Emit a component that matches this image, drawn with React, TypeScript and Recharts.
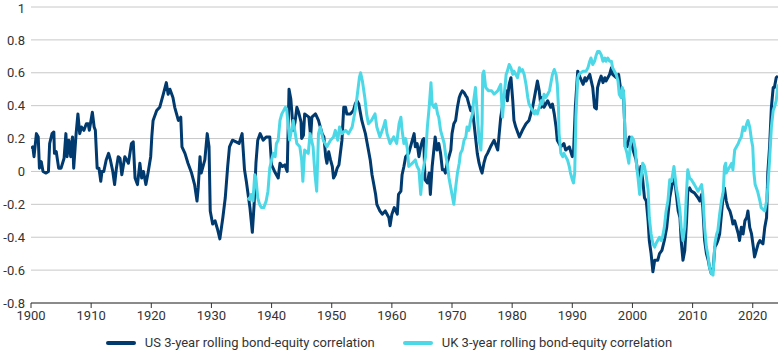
import { LineChart, Line, XAxis, YAxis, CartesianGrid, Legend } from 'recharts';

// US 3-year rolling bond-equity correlation
const usYears = [
  1900.0, 1900.3, 1900.5, 1900.9, 1901.2, 1901.4, 1901.7, 1902.0, 1902.5, 1902.9,
  1903.1, 1903.5, 1903.8, 1903.9, 1904.2, 1904.6, 1905.0, 1905.5, 1905.8, 1906.0,
  1906.3, 1906.6, 1906.9, 1907.1, 1907.5, 1907.8, 1908.1, 1908.4, 1908.8, 1909.2,
  1909.5, 1909.7, 1910.2, 1910.5, 1910.7, 1911.0, 1911.3, 1911.6, 1911.8, 1912.1,
  1912.5, 1912.9, 1913.2, 1913.6, 1913.9, 1914.2, 1914.5, 1914.8, 1915.1, 1915.6,
  1916.2, 1916.7, 1917.0, 1917.3, 1917.7, 1918.1, 1918.4, 1918.7, 1919.1, 1919.5,
  1919.9, 1920.1, 1920.3, 1920.9, 1921.4, 1922.0, 1922.5, 1922.8, 1923.1, 1923.6,
  1923.9, 1924.5, 1924.9, 1925.1, 1925.6, 1926.1, 1926.7, 1927.2, 1927.6, 1927.8,
  1928.1, 1928.3, 1928.9, 1929.3, 1929.6, 1929.8, 1930.2, 1930.6, 1931.0, 1931.4,
  1931.9, 1932.3, 1932.7, 1933.0, 1933.5, 1934.1, 1934.6, 1935.1, 1935.5, 1935.8,
  1936.1, 1936.4, 1936.8, 1937.1, 1937.4, 1937.7, 1938.1, 1938.6, 1939.1, 1939.7,
  1940.0, 1940.5, 1941.1, 1941.4, 1941.8, 1942.2, 1942.6, 1942.9, 1943.2, 1943.6,
  1943.9, 1944.2, 1944.5, 1944.9, 1945.0, 1945.3, 1945.5, 1946.2, 1946.5, 1946.7,
  1947.3, 1947.8, 1948.4, 1948.7, 1949.0, 1949.2, 1949.5, 1949.8, 1950.1, 1950.3,
  1950.6, 1950.9, 1951.2, 1951.4, 1951.7, 1952.0, 1952.3, 1952.5, 1953.1, 1953.6,
  1953.9, 1954.2, 1954.5, 1954.8, 1955.0, 1955.3, 1955.6, 1955.9, 1956.1, 1956.4,
  1956.7, 1957.0, 1957.3, 1957.5, 1958.0, 1958.4, 1958.9, 1959.5, 1959.7, 1960.0,
  1960.4, 1960.9, 1961.1, 1961.5, 1961.7, 1962.0, 1962.3, 1962.8, 1963.4, 1963.7,
  1963.9, 1964.2, 1964.5, 1964.8, 1965.1, 1965.3, 1965.5, 1965.9, 1966.2, 1966.4,
  1966.7, 1967.2, 1967.5, 1967.8, 1968.1, 1968.4, 1968.7, 1968.9, 1969.2, 1969.8,
  1970.0, 1970.3, 1970.6, 1970.9, 1971.2, 1971.4, 1971.7, 1972.0, 1972.3, 1972.5,
  1972.8, 1973.1, 1973.4, 1973.6, 1973.9, 1974.2, 1974.5, 1974.8, 1975.0, 1975.3,
  1975.6, 1975.9, 1976.4, 1977.0, 1977.6, 1977.8, 1978.1, 1978.7, 1979.0, 1979.2,
  1979.5, 1979.8, 1980.1, 1980.3, 1980.6, 1981.2, 1981.7, 1982.3, 1982.8, 1983.4,
  1983.9, 1984.2, 1984.5, 1984.8, 1985.0, 1985.3, 1985.9, 1986.4, 1986.7, 1987.0,
  1987.3, 1987.5, 1987.8, 1988.1, 1988.6, 1988.9, 1989.5, 1990.0, 1990.2, 1990.5,
  1990.9, 1991.3, 1991.8, 1992.1, 1992.3, 1992.9, 1993.4, 1993.7, 1994.0, 1994.2,
  1994.5, 1994.8, 1995.1, 1995.4, 1995.6, 1996.2, 1996.5, 1996.7, 1997.3, 1997.7,
  1998.0, 1998.3, 1998.5, 1998.7, 1998.8, 1999.1, 1999.5, 1999.8, 2000.1, 2000.6,
  2000.9, 2001.2, 2001.4, 2001.7, 2002.0, 2002.3, 2002.6, 2002.8, 2003.1, 2003.4,
  2003.7, 2004.2, 2004.5, 2004.9, 2005.3, 2005.7, 2006.2, 2006.5, 2006.9, 2007.3,
  2007.6, 2007.9, 2008.1, 2008.4, 2008.7, 2009.0, 2009.2, 2009.5, 2009.8, 2010.3,
  2010.9, 2011.2, 2011.5, 2011.7, 2012.0, 2012.3, 2012.6, 2012.8, 2013.1, 2013.4,
  2013.7, 2014.0, 2014.2, 2014.5, 2014.8, 2015.1, 2015.3, 2015.6, 2015.9, 2016.2,
  2016.5, 2016.7, 2017.0, 2017.3, 2017.6, 2017.8, 2018.1, 2018.4, 2018.7, 2019.0,
  2019.2, 2019.5, 2019.8, 2020.1, 2020.3, 2020.6, 2020.9, 2021.2, 2021.4, 2021.7,
  2022.0, 2022.3, 2022.5, 2022.8, 2023.1, 2023.4, 2023.6, 2023.9, 2024.2,
];
const usValues = [
  0.14, 0.15, 0.09, 0.23, 0.21, 0.02, 0.06, 0.0, -0.01, 0.0,
  0.17, 0.23, 0.24, 0.11, 0.12, 0.02, 0.02, 0.08, 0.23, 0.09,
  0.19, 0.09, 0.21, 0.02, 0.23, 0.35, 0.23, 0.27, 0.25, 0.29,
  0.29, 0.25, 0.36, 0.27, 0.25, 0.02, 0.02, -0.06, 0.0, 0.0,
  0.07, 0.11, 0.07, 0.0, -0.08, 0.02, 0.09, 0.08, -0.02, 0.09,
  0.05, 0.17, 0.18, -0.04, -0.08, 0.05, -0.04, 0.0, -0.08, 0.0,
  0.09, 0.22, 0.31, 0.37, 0.39, 0.47, 0.54, 0.47, 0.5, 0.45,
  0.39, 0.31, 0.33, 0.15, 0.11, 0.05, -0.01, -0.08, -0.18, -0.1,
  0.09, -0.01, 0.07, 0.23, 0.15, -0.24, -0.32, -0.3, -0.35, -0.41,
  -0.28, -0.16, 0.03, 0.15, 0.19, 0.18, 0.17, 0.23, 0.01, -0.06,
  -0.14, -0.22, -0.37, -0.2, 0.05, 0.19, 0.23, 0.19, 0.21, 0.21,
  0.04, 0.0, -0.04, 0.05, 0.03, 0.04, 0.0, 0.5, 0.44, 0.25,
  0.3, 0.39, 0.36, 0.3, 0.2, 0.22, 0.35, 0.33, 0.21, 0.33,
  0.35, 0.31, 0.23, 0.21, 0.09, 0.05, 0.12, 0.07, 0.03, -0.04,
  -0.02, 0.02, 0.04, 0.1, 0.19, 0.39, 0.39, 0.35, 0.35, 0.37,
  0.41, 0.43, 0.41, 0.35, 0.31, 0.27, 0.23, 0.17, 0.13, 0.07,
  -0.02, -0.08, -0.14, -0.2, -0.24, -0.26, -0.24, -0.28, -0.33, -0.26,
  -0.22, -0.26, -0.14, -0.12, -0.02, 0.03, 0.09, 0.11, 0.19, 0.23,
  0.15, 0.17, 0.09, 0.15, 0.19, 0.2, -0.05, -0.07, -0.01, -0.14,
  0.03, 0.21, 0.13, 0.17, 0.11, 0.01, 0.01, -0.01, 0.05, 0.13,
  0.23, 0.29, 0.31, 0.39, 0.45, 0.47, 0.49, 0.48, 0.46, 0.45,
  0.41, 0.37, 0.39, 0.31, 0.21, 0.11, 0.05, 0.01, -0.01, 0.05,
  0.09, 0.11, 0.15, 0.19, 0.13, 0.21, 0.33, 0.47, 0.49, 0.43,
  0.53, 0.57, 0.43, 0.31, 0.27, 0.21, 0.25, 0.29, 0.31, 0.39,
  0.49, 0.55, 0.49, 0.39, 0.45, 0.39, 0.43, 0.39, 0.41, 0.35,
  0.27, 0.19, 0.17, 0.15, 0.17, 0.13, 0.15, 0.09, 0.11, 0.39,
  0.61, 0.57, 0.53, 0.57, 0.55, 0.59, 0.51, 0.39, 0.38, 0.51,
  0.55, 0.58, 0.54, 0.57, 0.55, 0.59, 0.63, 0.59, 0.57, 0.59,
  0.51, 0.45, 0.49, 0.29, 0.15, 0.15, 0.21, 0.19, 0.13, 0.07,
  -0.01, -0.03, 0.03, -0.05, -0.16, -0.18, -0.3, -0.42, -0.5, -0.61,
  -0.54, -0.54, -0.5, -0.48, -0.42, -0.34, -0.16, -0.1, -0.01, -0.14,
  -0.24, -0.28, -0.42, -0.54, -0.48, -0.3, -0.12, -0.1, -0.12, -0.13,
  -0.16, -0.18, -0.14, -0.22, -0.42, -0.5, -0.54, -0.58, -0.62, -0.6,
  -0.46, -0.44, -0.42, -0.38, -0.26, -0.14, -0.1, -0.18, -0.22, -0.24,
  -0.28, -0.32, -0.3, -0.34, -0.38, -0.42, -0.34, -0.38, -0.3, -0.28,
  -0.24, -0.34, -0.38, -0.46, -0.52, -0.48, -0.44, -0.42, -0.43, -0.44,
  -0.34, -0.28, -0.01, 0.15, 0.39, 0.51, 0.51, 0.57, 0.58,
];

// UK 3-year rolling bond-equity correlation
const ukYears = [
  1936.0, 1936.3, 1936.6, 1936.9, 1937.2, 1937.4, 1937.7, 1938.0, 1938.3, 1938.7,
  1939.1, 1939.4, 1939.7, 1940.0, 1940.3, 1940.6, 1940.8, 1941.1, 1941.4, 1941.7,
  1942.0, 1942.3, 1942.5, 1943.0, 1943.3, 1943.6, 1944.2, 1944.7, 1945.0, 1945.2,
  1945.5, 1946.1, 1946.4, 1946.9, 1947.2, 1947.5, 1947.8, 1948.1, 1948.6, 1949.2,
  1949.8, 1950.3, 1950.6, 1951.0, 1951.3, 1951.7, 1952.3, 1952.8, 1953.4, 1953.9,
  1954.2, 1954.6, 1954.8, 1955.1, 1955.5, 1955.8, 1956.1, 1956.6, 1957.2, 1957.5,
  1958.0, 1958.6, 1958.9, 1959.2, 1959.7, 1960.3, 1960.8, 1961.2, 1961.5, 1961.7,
  1962.0, 1962.3, 1962.6, 1962.8, 1963.4, 1963.9, 1964.2, 1964.5, 1964.8, 1965.1,
  1965.6, 1965.9, 1966.2, 1966.5, 1966.7, 1967.0, 1967.3, 1967.6, 1967.8, 1968.1,
  1968.7, 1968.9, 1969.2, 1969.5, 1969.8, 1970.0, 1970.3, 1970.6, 1970.9, 1971.2,
  1971.4, 1971.7, 1972.0, 1972.3, 1972.5, 1972.8, 1973.1, 1973.4, 1973.6, 1973.9,
  1974.2, 1974.5, 1974.8, 1975.0, 1975.1, 1975.3, 1975.6, 1976.1, 1976.6, 1977.0,
  1977.6, 1978.1, 1978.4, 1978.7, 1979.0, 1979.2, 1979.5, 1979.8, 1980.1, 1980.3,
  1980.6, 1980.9, 1981.2, 1981.4, 1981.7, 1982.0, 1982.3, 1982.6, 1982.8, 1983.1,
  1983.4, 1983.7, 1983.9, 1984.2, 1984.5, 1984.8, 1985.0, 1985.3, 1985.6, 1985.9,
  1986.2, 1986.4, 1986.7, 1987.0, 1987.3, 1987.5, 1987.7, 1987.8, 1988.1, 1988.4,
  1988.6, 1988.9, 1989.2, 1989.5, 1989.7, 1990.0, 1990.2, 1990.4, 1990.6, 1990.9,
  1991.1, 1991.8, 1992.3, 1992.6, 1992.9, 1993.1, 1993.4, 1993.7, 1994.0, 1994.2,
  1994.5, 1994.8, 1995.1, 1995.4, 1995.6, 1995.9, 1996.2, 1996.5, 1996.7, 1997.0,
  1997.3, 1997.6, 1997.8, 1998.1, 1998.3, 1998.5, 1998.7, 1998.8, 1999.1, 1999.4,
  1999.6, 1999.9, 2000.2, 2000.5, 2000.7, 2000.9, 2001.2, 2001.4, 2001.7, 2002.0,
  2002.3, 2002.6, 2002.8, 2003.1, 2003.4, 2003.7, 2003.9, 2004.2, 2004.5, 2004.8,
  2005.0, 2005.3, 2005.6, 2005.9, 2006.2, 2006.5, 2006.9, 2007.3, 2007.6, 2007.9,
  2008.1, 2008.4, 2008.7, 2009.0, 2009.2, 2009.5, 2009.8, 2010.3, 2010.9, 2011.5,
  2011.7, 2012.0, 2012.3, 2012.6, 2012.8, 2013.1, 2013.4, 2013.7, 2014.0, 2014.2,
  2014.5, 2014.8, 2015.1, 2015.3, 2015.5, 2015.6, 2015.9, 2016.2, 2016.5, 2016.7,
  2017.0, 2017.3, 2017.6, 2017.8, 2018.1, 2018.4, 2018.7, 2019.0, 2019.2, 2019.5,
  2019.8, 2020.0, 2020.2, 2020.4, 2020.8, 2021.2, 2021.4, 2022.0, 2022.3, 2022.5,
  2022.8, 2023.1, 2023.4, 2023.6, 2023.9, 2024.2,
];
const ukValues = [
  -0.16, -0.17, -0.14, -0.18, -0.02, -0.04, -0.16, -0.2, -0.22, -0.22,
  -0.18, -0.12, 0.02, 0.07, 0.11, 0.09, 0.17, 0.19, 0.31, 0.35,
  0.37, 0.39, 0.38, 0.19, 0.25, 0.31, 0.17, 0.15, 0.07, -0.06,
  0.13, 0.11, 0.23, 0.15, -0.01, -0.12, 0.23, 0.27, 0.19, 0.15,
  0.19, 0.21, 0.25, 0.19, 0.27, 0.23, 0.25, 0.23, 0.27, 0.37,
  0.45, 0.57, 0.6, 0.55, 0.45, 0.35, 0.29, 0.31, 0.35, 0.27,
  0.21, 0.27, 0.31, 0.23, 0.17, 0.21, 0.17, 0.29, 0.33, 0.25,
  0.17, 0.2, 0.13, 0.03, 0.05, 0.07, 0.03, 0.01, -0.14, -0.01,
  0.09, 0.27, 0.39, 0.54, 0.41, 0.39, 0.41, 0.35, 0.33, 0.25,
  0.17, 0.11, 0.05, -0.04, -0.1, -0.14, -0.2, -0.1, -0.01, 0.05,
  0.11, 0.13, 0.19, 0.21, 0.27, 0.25, 0.31, 0.35, 0.43, 0.51,
  0.35, 0.19, 0.13, 0.29, 0.59, 0.61, 0.51, 0.49, 0.49, 0.47,
  0.49, 0.53, 0.33, 0.47, 0.59, 0.61, 0.65, 0.63, 0.59, 0.61,
  0.59, 0.57, 0.63, 0.61, 0.62, 0.59, 0.53, 0.45, 0.41, 0.39,
  0.37, 0.35, 0.37, 0.35, 0.39, 0.43, 0.41, 0.47, 0.45, 0.47,
  0.49, 0.53, 0.59, 0.62, 0.59, 0.53, 0.39, 0.23, 0.11, 0.09,
  0.11, 0.09, 0.07, 0.03, -0.01, -0.05, -0.07, -0.01, 0.33, 0.57,
  0.59, 0.61, 0.61, 0.63, 0.67, 0.69, 0.65, 0.67, 0.71, 0.73,
  0.73, 0.71, 0.67, 0.69, 0.67, 0.69, 0.67, 0.67, 0.63, 0.61,
  0.59, 0.55, 0.47, 0.45, 0.51, 0.49, 0.29, 0.15, 0.11, 0.05,
  0.15, 0.21, 0.19, 0.13, 0.03, -0.03, -0.14, -0.05, 0.05, 0.03,
  -0.03, -0.11, -0.28, -0.38, -0.44, -0.46, -0.44, -0.42, -0.4, -0.42,
  -0.4, -0.34, -0.24, -0.18, -0.05, -0.06, 0.03, -0.1, -0.16, -0.24,
  -0.34, -0.42, -0.34, -0.12, 0.01, -0.04, -0.05, -0.08, -0.12, -0.08,
  -0.14, -0.34, -0.46, -0.52, -0.58, -0.62, -0.63, -0.44, -0.38, -0.36,
  -0.26, -0.18, -0.12, 0.03, 0.05, -0.01, 0.01, 0.03, 0.05, 0.01,
  0.13, 0.15, 0.17, 0.19, 0.21, 0.27, 0.25, 0.29, 0.31, 0.27,
  0.19, 0.15, -0.01, -0.08, -0.12, -0.18, -0.22, -0.24, -0.18, -0.1,
  0.07, 0.27, 0.37, 0.39, 0.43, 0.53,
];

const xTicks = [1900, 1910, 1920, 1930, 1940, 1950, 1960, 1970, 1980, 1990, 2000, 2010, 2020];
const yTicks = [-0.8, -0.6, -0.4, -0.2, 0, 0.2, 0.4, 0.6, 0.8, 1];

const US_COLOR = '#003a6e';
const UK_COLOR = '#4cd8e6';
const FONT = 'Roboto, "Noto Sans", sans-serif';

const usData = usYears.map((year, i) => ({ year, value: usValues[i] }));
const ukData = ukYears.map((year, i) => ({ year, value: ukValues[i] }));

const legendItems = [
  { label: 'US 3-year rolling bond-equity correlation', color: US_COLOR },
  { label: 'UK 3-year rolling bond-equity correlation', color: UK_COLOR },
];

function ChartLegend() {
  return (
    <div style={{ display: 'flex', justifyContent: 'center', gap: 28, paddingTop: 10, fontFamily: FONT, fontSize: 13, color: '#333' }}>
      {legendItems.map(item => (
        <div key={item.label} style={{ display: 'flex', alignItems: 'center' }}>
          <span style={{ display: 'inline-block', width: 30, height: 4, borderRadius: 2, background: item.color, marginRight: 9 }} />
          <span>{item.label}</span>
        </div>
      ))}
    </div>
  );
}

export default function App() {
  return (
    <div style={{ position: 'fixed', left: 0, top: 0, width: 780, height: 350, background: '#fff' }}>
      <LineChart width={780} height={350} margin={{ top: 7, right: 2, bottom: 0, left: 0 }}>
        <CartesianGrid vertical={false} stroke="#c8c8c8" />
        <XAxis
          type="number"
          dataKey="year"
          domain={[1900, 2024.2]}
          ticks={xTicks}
          allowDataOverflow
          height={22}
          stroke="#333"
          tickSize={5}
          tickMargin={3}
          tick={{ fill: '#333', fontSize: 13, fontFamily: FONT }}
        />
        <YAxis
          type="number"
          domain={[-0.8, 1]}
          ticks={yTicks}
          width={31}
          axisLine={false}
          tickLine={false}
          tickMargin={0}
          tick={{ fill: '#333', fontSize: 13, fontFamily: FONT }}
        />
        <Legend verticalAlign="bottom" height={25} content={() => <ChartLegend />} />
        <Line data={usData} dataKey="value" name="US" type="linear" stroke={US_COLOR} strokeWidth={3} dot={false} isAnimationActive={false} strokeLinejoin="round" />
        <Line data={ukData} dataKey="value" name="UK" type="linear" stroke={UK_COLOR} strokeWidth={3} dot={false} isAnimationActive={false} strokeLinejoin="round" />
      </LineChart>
    </div>
  );
}
